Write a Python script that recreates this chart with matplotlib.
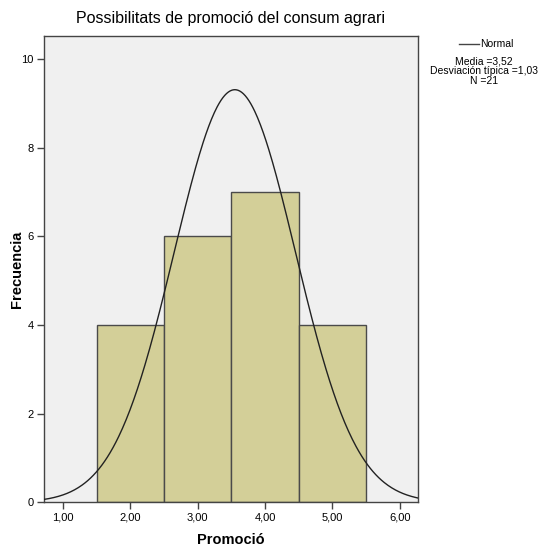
import numpy as np
import matplotlib
matplotlib.use("Agg")
import matplotlib.pyplot as plt

# --- datos ---
valores = [2, 3, 4, 5]
frecuencias = [4, 6, 7, 4]
ticks_x = [1, 2, 3, 4, 5, 6]
etiquetas_x = ['1,00', '2,00', '3,00', '4,00', '5,00', '6,00']
ticks_y = [0, 2, 4, 6, 8, 10]

# curva normal tal como se ve en el grafico
media_curva = 3.55
sd_curva = 0.9
n_total = 21

plt.rcParams['font.family'] = ['Liberation Sans', 'DejaVu Sans']

fig = plt.figure(figsize=(5.38, 5.58), dpi=100)
ax = fig.add_axes([0.081, 0.0998, 0.696, 0.8357])
ax.set_facecolor('#F0F0F0')

ax.bar(valores, frecuencias, width=1.0, color='#D3CF98',
       edgecolor='#4a4a4a', linewidth=1.0, zorder=2)

x = np.linspace(0.71, 6.27, 400)
y = n_total / (sd_curva * np.sqrt(2 * np.pi)) * np.exp(-(x - media_curva) ** 2 / (2 * sd_curva ** 2))
ax.plot(x, y, color='#222222', linewidth=1.0, zorder=3)

ax.set_xlim(0.71, 6.27)
ax.set_ylim(0, 10.52)
ax.set_xticks(ticks_x)
ax.set_xticklabels(etiquetas_x)
ax.set_yticks(ticks_y)
ax.tick_params(direction='out', length=5, width=1, color='#444444',
               labelsize=8, pad=2)
for s in ax.spines.values():
    s.set_color('#444444')
    s.set_linewidth(1.0)

ax.set_title('Possibilitats de promoció del consum agrari', fontsize=11.5, pad=9)
ax.set_xlabel('Promoció', fontsize=10.5, fontweight='bold', labelpad=8)
ax.set_ylabel('Frecuencia', fontsize=10.5, fontweight='bold')
ax.yaxis.set_label_coords(-0.052, 0.5)

# leyenda estilo SPSS
fig.add_artist(plt.Line2D([0.853, 0.891], [0.922, 0.922], color='#444444', linewidth=1.0))
fig.text(0.893, 0.922, 'Normal', fontsize=7.5, va='center', ha='left')
fig.text(0.9, 0.899, 'Media =3,52\nDesviación típica =1,03\nN =21',
         fontsize=7.5, va='top', ha='center', linespacing=0.95)

fig.savefig('out.png', dpi=100)
